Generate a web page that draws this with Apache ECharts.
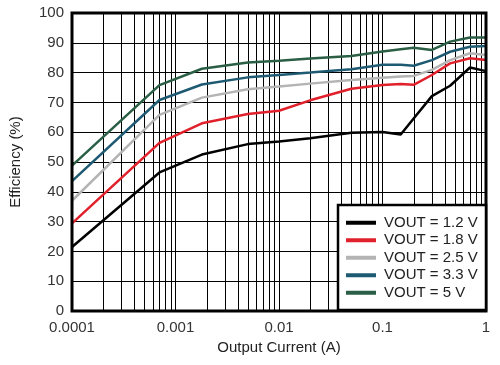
<!DOCTYPE html>
<html>
<head>
<meta charset="utf-8">
<script src="https://cdn.jsdelivr.net/npm/echarts@6/dist/echarts.min.js"></script>
<style>html,body{margin:0;padding:0;background:#fff;}#c{width:500px;height:365px;}</style>
</head>
<body>
<div id="c"></div>
<script>
var currents = [0.0001, 0.0007, 0.0018, 0.005, 0.01, 0.02, 0.05, 0.1, 0.15, 0.2, 0.3, 0.45, 0.7, 1];
var eff12 = [21.5, 46.5, 52.5, 56.0, 56.9, 58.0, 59.8, 60.1, 59.2, 64.6, 72.1, 75.6, 81.7, 80.5];
var eff18 = [29.4, 56.4, 63.0, 66.1, 67.2, 70.7, 74.6, 75.8, 76.2, 75.9, 79.2, 83.1, 84.8, 84.2];
var eff25 = [37.0, 65.8, 71.6, 74.4, 75.3, 76.3, 77.5, 78.3, 78.7, 78.9, 80.9, 84.2, 86.5, 85.9];
var eff33 = [43.6, 70.8, 76.0, 78.4, 79.2, 80.0, 81.1, 82.6, 82.6, 82.3, 84.2, 87.0, 88.7, 88.9];
var eff50 = [48.8, 75.8, 81.3, 83.4, 84.0, 84.7, 85.6, 87.1, 87.8, 88.3, 87.6, 90.4, 91.8, 91.8];
var seriesNames = ['VOUT = 1.2 V', 'VOUT = 1.8 V', 'VOUT = 2.5 V', 'VOUT = 3.3 V', 'VOUT = 5 V'];
var seriesColors = ['#000000', '#e0202a', '#b4b4b4', '#1f5a73', '#2a5e45'];
var xTickLabels = ['0.0001', '0.001', '0.01', '0.1', '1'];
var decades = [0.0001, 0.001, 0.01, 0.1];
var minorMultipliers = [2, 3, 4, 5, 6, 7, 8, 9];
var minorGridX = [];
decades.forEach(function (d) {
  minorMultipliers.forEach(function (k) { minorGridX.push(+(d * k).toPrecision(3)); });
});

var allValues = [eff12, eff18, eff25, eff33, eff50];
var font = 'Liberation Sans, Arial, sans-serif';

var series = allValues.map(function (vals, i) {
  return {
    name: seriesNames[i],
    type: 'line',
    showSymbol: false,
    symbol: 'none',
    z: 3,
    lineStyle: { color: seriesColors[i], width: 2.5 },
    itemStyle: { color: seriesColors[i] },
    data: currents.map(function (c, j) { return [c, vals[j]]; })
  };
});
series.push({
  type: 'custom',
  silent: true,
  z: 1,
  clip: true,
  data: minorGridX.map(function (v) { return [v]; }),
  encode: { x: 0 },
  renderItem: function (params, api) {
    var top = api.coord([api.value(0), 100]);
    var bot = api.coord([api.value(0), 0]);
    var x = Math.round(top[0]) + 0.5;
    return {
      type: 'line',
      shape: { x1: x, y1: top[1], x2: x, y2: bot[1] },
      style: { stroke: '#000', lineWidth: 1 }
    };
  }
});

var chart = echarts.init(document.getElementById('c'), null, { renderer: 'canvas' });
chart.setOption({
  animation: false,
  backgroundColor: '#fff',
  grid: { left: 68, right: 14, top: 13, bottom: 54, show: true, borderColor: '#000', borderWidth: 3, backgroundColor: 'transparent', z: 5 },
  xAxis: {
    type: 'log', logBase: 10, min: 0.0001, max: 1,
    name: 'Output Current (A)', nameLocation: 'middle', nameGap: 27,
    nameTextStyle: { fontFamily: font, fontSize: 15, color: '#222' },
    axisLine: { show: false },
    axisTick: { show: false },
    splitLine: { show: true, lineStyle: { color: '#000', width: 1 } },
    axisLabel: {
      fontFamily: font, fontSize: 15, color: '#333', margin: 9,
      formatter: function (v) {
        var idx = Math.round(Math.log10(v)) + 4;
        return xTickLabels[idx] !== undefined ? xTickLabels[idx] : '';
      }
    }
  },
  yAxis: {
    type: 'value', min: 0, max: 100, interval: 10,
    name: 'Efficiency (%)', nameLocation: 'middle', nameGap: 49,
    nameTextStyle: { fontFamily: font, fontSize: 15, color: '#222' },
    axisLine: { show: false },
    axisTick: { show: false },
    splitLine: { show: true, lineStyle: { color: '#000', width: 1 } },
    axisLabel: { fontFamily: font, fontSize: 15, color: '#333', margin: 8 }
  },
  graphic: [{
    type: 'rect', z: 8,
    shape: { x: 338, y: 205, width: 148, height: 105 },
    style: { fill: '#fff', stroke: '#000', lineWidth: 2.5 }
  }],
  legend: {
    orient: 'vertical', left: 338, top: 205, z: 10,
    padding: [9, 8, 8, 8],
    itemWidth: 30, itemHeight: 4, itemGap: 0,
    icon: 'rect',
    textStyle: { fontFamily: font, fontSize: 15, color: '#222', lineHeight: 17.5, padding: [0, 0, 0, 3] },
    data: seriesNames
  },
  series: series
});
</script>
</body>
</html>
